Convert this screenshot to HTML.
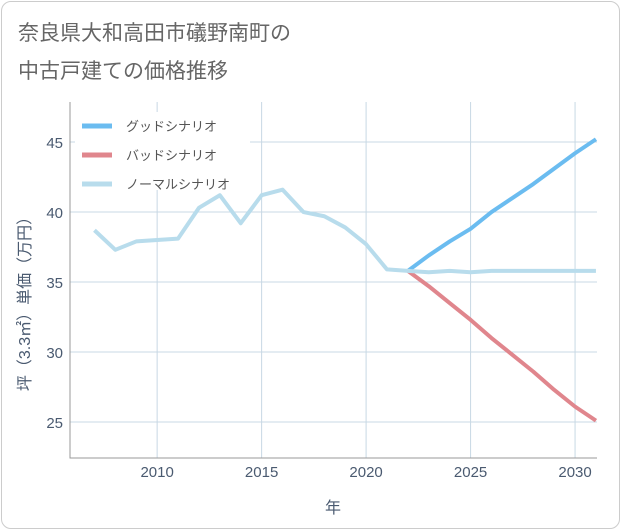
<!DOCTYPE html>
<html><head><meta charset="utf-8"><style>
body{margin:0;background:#fff;font-family:"Liberation Sans","Noto Sans CJK JP",sans-serif;}
#card{position:absolute;left:1px;top:1px;width:617px;height:526px;border:1px solid #ccc;border-radius:10px;background:#fff;}
.t{position:absolute;left:18px;font-size:21px;color:#666;}
</style></head><body>
<div id="card"></div>
<div class="t" style="top:17px">奈良県大和高田市礒野南町の</div>
<div class="t" style="top:55px">中古戸建ての価格推移</div>
<svg id="c" width="621" height="530" style="position:absolute;left:0;top:0"></svg>
<script>
const years=[2007,2008,2009,2010,2011,2012,2013,2014,2015,2016,2017,2018,2019,2020,2021,2022,2023,2024,2025,2026,2027,2028,2029,2030,2031];
const normal=[38.7,37.3,37.9,38.0,38.1,40.3,41.2,39.2,41.2,41.6,40.0,39.7,38.9,37.7,35.9,35.8,35.7,35.8,35.7,35.8,35.8,35.8,35.8,35.8,35.8];
const fYears=[2022,2023,2024,2025,2026,2027,2028,2029,2030,2031];
const good=[35.8,36.9,37.9,38.8,40.0,41.0,42.0,43.1,44.2,45.2];
const bad=[35.8,34.7,33.5,32.3,31.0,29.8,28.6,27.3,26.1,25.1];
const xTicks=[2010,2015,2020,2025,2030];
const yTicks=[25,30,35,40,45];
const L=70,R=597,T=102,B=458,x0=2005.83,x1=2031.05,y0=22.43,y1=47.86;
const X=v=>L+(v-x0)/(x1-x0)*(R-L), Y=v=>B-(v-y0)/(y1-y0)*(B-T);
const s=document.getElementById('c'),NS='http://www.w3.org/2000/svg';
function el(t,a,p){const e=document.createElementNS(NS,t);for(const k in a)e.setAttribute(k,a[k]);(p||s).appendChild(e);return e;}
xTicks.forEach(v=>{const l=el('line',{x1:X(v),x2:X(v),y1:T,y2:B,stroke:'#c8d8e4'});


const t=el('text',{x:X(v),y:477,'text-anchor':'middle','font-size':15,fill:'#4a5a70'});t.textContent=v;

});
yTicks.forEach(v=>{const l=el('line',{x1:L,x2:R,y1:Y(v),y2:Y(v),stroke:'#c8d8e4'});


const t=el('text',{x:63,y:Y(v)+6,'text-anchor':'end','font-size':15,fill:'#4a5a70'});t.textContent=v;

});
const ax=el('path',{d:`M${L} ${T}V${B}H${R}`,stroke:'#999',fill:'none'});


const lg=el('rect',{x:75,y:112,width:175,height:78,fill:'#fff'});


function line(xs,ys,c,n){const p=el('polyline',{points:xs.map((v,i)=>X(v)+','+Y(ys[i])).join(' '),fill:'none',stroke:c,'stroke-width':4,'stroke-linejoin':'round'});

}
line(fYears,bad,'#e0868d','bad-scenario-line');
line(fYears,good,'#6bbcf0','good-scenario-line');
line(years,normal,'#b8dcec','normal-scenario-line');
[['グッドシナリオ','#6bbcf0',126],['バッドシナリオ','#e0868d',155],['ノーマルシナリオ','#b8dcec',184]].forEach(([n,c,y])=>{
const l=el('line',{x1:82,x2:112,y1:y,y2:y,stroke:c,'stroke-width':5});


const t=el('text',{x:126,y:y+5,'font-size':13,fill:'#555'});t.textContent=n;

});
const xt=el('text',{x:333,y:513,'text-anchor':'middle','font-size':16,fill:'#4a5a70'});xt.textContent='年';


const yt=el('text',{x:0,y:0,'text-anchor':'middle','font-size':16,fill:'#4a5a70',transform:'translate(30,300) rotate(-90)'});yt.textContent='坪（3.3㎡）単価（万円）';


</script>
</body></html>
